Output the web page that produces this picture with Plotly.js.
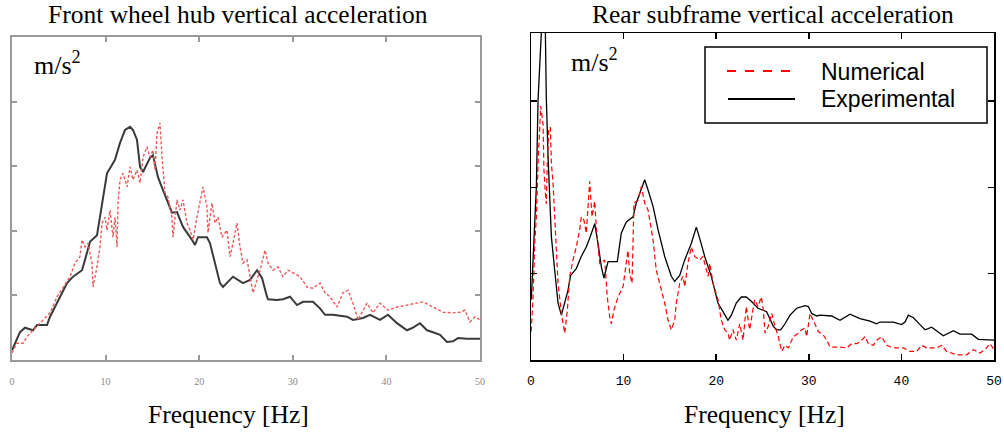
<!DOCTYPE html>
<html>
<head>
<meta charset="utf-8">
<script src="https://cdn.plot.ly/plotly-3.0.1.min.js"></script>
<style>
  html, body { margin: 0; padding: 0; background: #ffffff; }
  #chart { width: 1004px; height: 435px; }
</style>
</head>
<body>
<div id="chart"></div>
<script>
// ---------- Data ----------
const xTickVals = [0, 10, 20, 30, 40, 50];
const xTickText = ["0", "10", "20", "30", "40", "50"];

// Front wheel hub - Experimental
const frontExpHz = [0, 0.85, 1.39, 2.24, 2.67, 3.74, 4.06, 5.88, 6.52, 7.48, 7.8, 8.33, 9.08, 9.4, 9.94, 10.15, 10.68, 11.0, 11.54, 12.07, 12.61, 12.93, 13.35, 13.68, 14.0, 14.42, 14.74, 15.06, 15.6, 16.13, 16.56, 17.09, 17.63, 18.27, 19.23, 19.55, 19.87, 20.83, 21.15, 22.22, 22.54, 23.61, 24.68, 25.43, 26.18, 26.71, 27.24, 27.35, 28.31, 28.95, 29.7, 30.45, 31.09, 32.16, 32.9, 33.44, 34.29, 35.79, 36.43, 37.5, 38.25, 39.32, 40.17, 41.13, 42.2, 42.84, 43.59, 44.34, 44.98, 45.73, 46.47, 47.12, 47.65, 48.61, 50];
const frontExpVal = [0.15, 0.43, 0.5, 0.46, 0.54, 0.54, 0.67, 1.19, 1.29, 1.39, 1.55, 1.83, 1.93, 2.21, 2.74, 2.89, 3.02, 3.1, 3.36, 3.56, 3.61, 3.56, 3.41, 2.99, 2.91, 3.05, 3.13, 3.17, 2.83, 2.63, 2.48, 2.28, 2.29, 2.06, 1.86, 1.78, 1.9, 1.9, 1.81, 1.19, 1.13, 1.29, 1.19, 1.24, 1.39, 1.27, 0.98, 0.94, 0.93, 0.94, 0.98, 0.85, 0.9, 0.9, 0.8, 0.7, 0.7, 0.67, 0.62, 0.65, 0.7, 0.62, 0.7, 0.57, 0.46, 0.5, 0.57, 0.46, 0.43, 0.39, 0.28, 0.29, 0.34, 0.33, 0.33];

// Front wheel hub - Numerical
const frontNumHz = [0, 0.53, 1.18, 1.6, 2.24, 3.31, 4.06, 4.81, 5.45, 6.2, 6.73, 7.26, 7.48, 7.8, 8.12, 8.55, 8.65, 9.08, 9.4, 9.62, 9.94, 10.15, 10.47, 10.79, 11.0, 11.22, 11.32, 11.54, 11.86, 12.29, 12.61, 12.93, 13.35, 13.68, 14.0, 14.42, 14.74, 15.06, 15.28, 15.49, 15.81, 16.03, 16.35, 16.67, 17.09, 17.2, 17.63, 17.95, 18.27, 18.7, 19.02, 19.34, 19.76, 20.09, 20.41, 20.83, 20.94, 21.37, 21.69, 22.01, 22.44, 22.97, 23.29, 23.61, 24.04, 24.36, 24.68, 25.11, 25.43, 25.75, 26.18, 26.5, 27.03, 27.35, 27.88, 28.42, 28.95, 29.49, 30.77, 31.52, 32.16, 32.91, 33.44, 33.97, 34.72, 35.36, 35.9, 36.43, 36.97, 37.5, 37.93, 38.57, 39.32, 40.17, 41.13, 42.2, 43.27, 43.91, 44.98, 46.05, 47.12, 47.86, 48.4, 48.93, 49.47, 50];
const frontNumVal = [0.11, 0.26, 0.26, 0.36, 0.46, 0.62, 0.73, 0.98, 1.13, 1.29, 1.5, 1.6, 1.86, 1.75, 1.81, 1.5, 1.13, 1.44, 1.75, 2.12, 2.21, 2.01, 2.32, 1.9, 2.21, 1.75, 2.43, 2.79, 2.89, 2.68, 2.99, 2.79, 2.94, 2.74, 3.14, 3.3, 3.14, 3.25, 2.94, 3.51, 3.67, 3.14, 2.59, 2.52, 2.21, 1.9, 2.48, 2.32, 2.48, 2.12, 2.01, 1.86, 2.21, 2.43, 2.68, 2.37, 1.97, 2.43, 2.12, 2.21, 1.9, 2.01, 1.6, 1.81, 2.12, 1.75, 1.5, 1.55, 1.29, 1.04, 1.24, 1.39, 1.7, 1.5, 1.39, 1.44, 1.29, 1.39, 1.29, 1.13, 1.11, 1.19, 1.04, 0.98, 0.82, 1.04, 1.08, 0.88, 0.62, 0.77, 0.88, 0.73, 0.88, 0.77, 0.82, 0.85, 0.88, 0.9, 0.82, 0.74, 0.73, 0.74, 0.77, 0.59, 0.67, 0.62, 0.62];

// Rear subframe - Experimental
const rearExpHz = [0.03, 0.4, 0.58, 0.76, 1.12, 1.3, 1.5, 1.65, 1.84, 2.02, 2.2, 2.56, 2.92, 3.28, 3.64, 4.0, 4.28, 4.89, 5.43, 5.97, 6.33, 6.88, 7.24, 7.6, 7.88, 8.32, 9.32, 9.75, 10.29, 11.02, 11.37, 12.28, 12.64, 13.18, 13.72, 14.44, 15.15, 15.52, 16.06, 16.6, 17.31, 17.85, 18.22, 18.76, 19.47, 20.19, 20.73, 21.27, 21.63, 22.17, 22.71, 23.25, 23.79, 24.51, 25.45, 26.17, 26.53, 26.97, 27.43, 27.97, 28.69, 29.59, 29.95, 30.31, 30.85, 31.21, 32.47, 33.37, 34.45, 35.53, 36.61, 37.33, 37.69, 39.13, 40.03, 40.39, 40.75, 41.29, 42.01, 42.55, 43.27, 44.53, 45.61, 46.33, 47.59, 48.31, 50];
const rearExpVal = [0.7, 1.54, 2.01, 3.01, 3.63, 4.2, 4.2, 3.05, 2.36, 1.82, 1.43, 1.04, 0.66, 0.52, 0.66, 0.81, 0.98, 1.06, 1.2, 1.31, 1.41, 1.58, 1.35, 1.08, 0.95, 1.14, 1.14, 1.47, 1.6, 1.66, 1.82, 2.09, 1.97, 1.78, 1.51, 1.2, 0.97, 0.91, 0.98, 1.16, 1.35, 1.54, 1.41, 1.2, 0.97, 0.66, 0.56, 0.46, 0.52, 0.66, 0.73, 0.73, 0.68, 0.6, 0.56, 0.39, 0.35, 0.35, 0.42, 0.52, 0.6, 0.63, 0.62, 0.54, 0.51, 0.52, 0.51, 0.46, 0.53, 0.48, 0.45, 0.42, 0.44, 0.44, 0.41, 0.44, 0.52, 0.49, 0.41, 0.35, 0.38, 0.28, 0.34, 0.3, 0.3, 0.24, 0.23];

// Rear subframe - Numerical
const rearNumHz = [0.03, 0.22, 0.4, 0.58, 0.76, 1.05, 1.3, 1.4, 1.55, 1.65, 1.76, 1.91, 2.09, 2.2, 2.38, 2.56, 2.73, 2.92, 3.28, 3.64, 3.93, 4.18, 4.54, 4.89, 5.26, 5.43, 5.72, 5.97, 6.23, 6.34, 6.59, 6.88, 7.05, 7.24, 7.42, 7.96, 8.24, 8.5, 8.68, 8.96, 9.4, 9.94, 10.29, 10.47, 10.66, 10.91, 11.12, 11.55, 11.91, 12.28, 12.64, 13.18, 13.53, 13.9, 14.44, 14.8, 15.15, 15.52, 15.69, 16.06, 16.41, 16.6, 16.95, 17.31, 17.67, 18.22, 18.57, 18.76, 19.12, 19.3, 19.66, 20.19, 20.55, 20.92, 21.27, 21.45, 21.81, 22.17, 22.54, 22.9, 23.25, 23.61, 24.15, 24.51, 24.87, 25.09, 25.27, 25.63, 25.99, 26.35, 26.71, 27.07, 27.43, 27.79, 28.33, 28.87, 29.23, 29.59, 29.77, 30.13, 30.49, 31.03, 31.57, 31.93, 32.29, 33.37, 34.09, 34.63, 35.17, 35.53, 36.07, 36.43, 36.97, 37.33, 37.87, 38.41, 39.13, 40.21, 40.93, 41.65, 42.19, 42.73, 43.81, 44.35, 44.89, 45.97, 47.05, 47.77, 48.49, 49.03, 49.57, 50];
const rearNumVal = [0.33, 0.73, 1.35, 1.66, 2.28, 2.94, 2.74, 2.2, 1.93, 1.81, 2.28, 2.67, 2.7, 2.28, 2.05, 1.66, 1.27, 0.89, 0.54, 0.31, 0.58, 0.97, 1.16, 1.31, 1.51, 1.66, 1.62, 1.47, 1.89, 2.07, 1.66, 1.84, 1.54, 1.35, 1.12, 1.16, 0.73, 0.5, 0.42, 0.58, 0.73, 0.85, 1.12, 1.27, 1.0, 0.89, 1.82, 1.85, 2.01, 1.82, 1.74, 1.39, 1.04, 0.89, 0.66, 0.46, 0.35, 0.46, 0.66, 0.89, 0.97, 0.85, 1.12, 1.31, 1.2, 1.16, 1.2, 1.12, 0.97, 1.12, 0.89, 0.7, 0.46, 0.35, 0.31, 0.23, 0.35, 0.23, 0.42, 0.23, 0.62, 0.35, 0.7, 0.62, 0.73, 0.58, 0.31, 0.39, 0.54, 0.39, 0.27, 0.1, 0.17, 0.14, 0.27, 0.31, 0.35, 0.37, 0.27, 0.54, 0.46, 0.33, 0.29, 0.23, 0.15, 0.15, 0.14, 0.19, 0.19, 0.21, 0.27, 0.19, 0.17, 0.23, 0.27, 0.17, 0.14, 0.14, 0.1, 0.1, 0.17, 0.14, 0.14, 0.17, 0.1, 0.06, 0.06, 0.12, 0.08, 0.12, 0.19, 0.12];

// ---------- Layout helpers (pixel -> paper) ----------
const W = 1004, H = 435;
const px = x => x / W;
const py = y => 1 - y / H;

const traces = [
  { x: frontExpHz, y: frontExpVal, xaxis: 'x', yaxis: 'y', mode: 'lines', name: 'Experimental',
    line: { color: '#3a3a3a', width: 2 }, showlegend: false, hoverinfo: 'skip' },
  { x: frontNumHz, y: frontNumVal, xaxis: 'x', yaxis: 'y', mode: 'lines', name: 'Numerical',
    line: { color: '#ec5a5a', width: 1.4, dash: '3px,2px' }, showlegend: false, hoverinfo: 'skip' },
  { x: rearExpHz, y: rearExpVal, xaxis: 'x2', yaxis: 'y2', mode: 'lines', name: 'Experimental',
    line: { color: '#000000', width: 1.3 }, showlegend: false, hoverinfo: 'skip' },
  { x: rearNumHz, y: rearNumVal, xaxis: 'x2', yaxis: 'y2', mode: 'lines', name: 'Numerical',
    line: { color: '#ff0000', width: 1.2, dash: '5px,3px' }, showlegend: false, hoverinfo: 'skip' }
];

const leftAxisCommon = {
  showgrid: false, zeroline: false, showline: true, mirror: 'ticks',
  linecolor: '#9a9a9a', linewidth: 2, ticks: 'inside', ticklen: 5, tickwidth: 2, tickcolor: '#9a9a9a'
};
const rightAxisCommon = {
  showgrid: false, zeroline: false, showline: true, mirror: 'ticks',
  linecolor: '#000000', linewidth: 1.5, ticks: 'inside', ticklen: 6, tickwidth: 1.5, tickcolor: '#000000'
};

const serif = 'Liberation Serif, Times New Roman, serif';
const sans = 'Liberation Sans, Arial, sans-serif';

const layout = {
  width: W, height: H, autosize: false,
  margin: { l: 0, r: 0, t: 0, b: 0 },
  paper_bgcolor: '#ffffff', plot_bgcolor: '#ffffff',
  showlegend: false,
  xaxis: Object.assign({}, leftAxisCommon, {
    domain: [px(12), px(480)], range: [0, 50], anchor: 'y',
    tickvals: xTickVals, ticktext: xTickText, ticklabelstandoff: 11,
    tickfont: { family: serif, size: 10, color: '#8a8a8a' }
  }),
  yaxis: Object.assign({}, leftAxisCommon, {
    domain: [py(360), py(37)], range: [0, 5], anchor: 'x',
    tickvals: [1, 2, 3, 4], showticklabels: false
  }),
  xaxis2: Object.assign({}, rightAxisCommon, {
    domain: [px(531), px(994)], range: [0, 50], anchor: 'y2',
    tickvals: xTickVals, ticktext: xTickText, ticklabelstandoff: 8,
    tickfont: { family: 'Liberation Mono, Courier New, monospace', size: 13, color: '#000000' }
  }),
  yaxis2: Object.assign({}, rightAxisCommon, {
    domain: [py(360), py(33)], range: [0, 3.79], anchor: 'x2',
    tickvals: [1, 2, 3], showticklabels: false
  }),
  shapes: [
    // legend box
    { type: 'rect', xref: 'paper', yref: 'paper', x0: px(705), x1: px(987), y0: py(123), y1: py(47),
      line: { color: '#000000', width: 1.5 }, fillcolor: '#ffffff', layer: 'above' },
    { type: 'line', xref: 'paper', yref: 'paper', x0: px(727), x1: px(791), y0: py(71), y1: py(71),
      line: { color: '#ff0000', width: 2, dash: 'dash' }, layer: 'above' },
    { type: 'line', xref: 'paper', yref: 'paper', x0: px(728), x1: px(795), y0: py(99), y1: py(99),
      line: { color: '#000000', width: 2 }, layer: 'above' }
  ],
  annotations: [
    { text: 'Front wheel hub vertical acceleration', xref: 'paper', yref: 'paper',
      x: px(238), y: py(15), xanchor: 'center', yanchor: 'middle', showarrow: false,
      font: { family: serif, size: 25.5, color: '#000000' } },
    { text: 'Rear subframe vertical acceleration', xref: 'paper', yref: 'paper',
      x: px(773), y: py(15), xanchor: 'center', yanchor: 'middle', showarrow: false,
      font: { family: serif, size: 25.5, color: '#000000' } },
    { text: 'Frequency [Hz]', xref: 'paper', yref: 'paper',
      x: px(228), y: py(414), xanchor: 'center', yanchor: 'middle', showarrow: false,
      font: { family: serif, size: 25.5, color: '#000000' } },
    { text: 'Frequency [Hz]', xref: 'paper', yref: 'paper',
      x: px(764), y: py(414), xanchor: 'center', yanchor: 'middle', showarrow: false,
      font: { family: serif, size: 25.5, color: '#000000' } },
    { text: 'm/s<sup>2</sup>', xref: 'paper', yref: 'paper',
      x: px(32), y: py(63), xanchor: 'left', yanchor: 'middle', showarrow: false,
      font: { family: serif, size: 26, color: '#000000' } },
    { text: 'm/s<sup>2</sup>', xref: 'paper', yref: 'paper',
      x: px(569), y: py(61), xanchor: 'left', yanchor: 'middle', showarrow: false,
      font: { family: serif, size: 26, color: '#000000' } },
    { text: 'Numerical', xref: 'paper', yref: 'paper',
      x: px(819), y: py(72), xanchor: 'left', yanchor: 'middle', showarrow: false,
      font: { family: sans, size: 23, color: '#000000' } },
    { text: 'Experimental', xref: 'paper', yref: 'paper',
      x: px(819), y: py(99), xanchor: 'left', yanchor: 'middle', showarrow: false,
      font: { family: sans, size: 23, color: '#000000' } }
  ]
};

Plotly.newPlot('chart', traces, layout, { staticPlot: true, displayModeBar: false });
</script>
</body>
</html>
